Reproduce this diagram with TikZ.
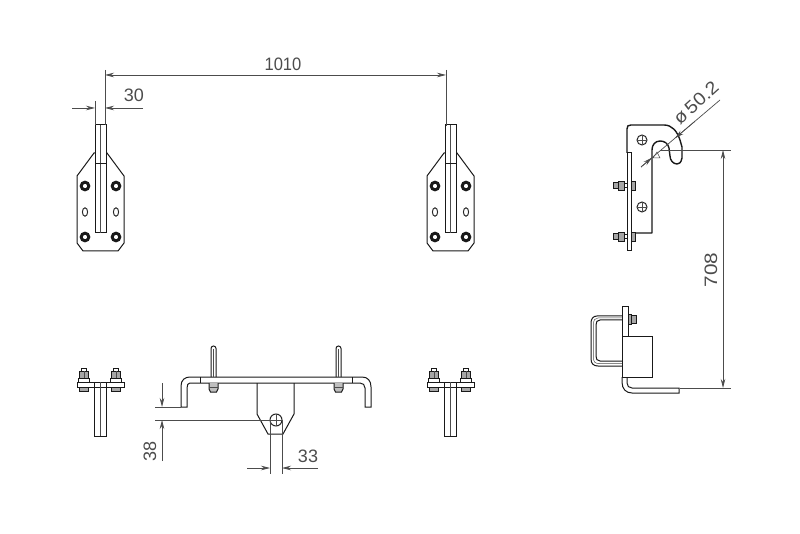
\documentclass[tikz,border=0pt]{standalone}
\usepackage{fontspec}
\setmainfont{Liberation Sans}
\usetikzlibrary{arrows.meta}
\newcommand{\crosshole}[3]{
  \draw[thick line] (#1,#2) circle (#3);
  \draw[thin line] (#1-#3,#2) -- (#1+#3,#2) (#1,#2-#3) -- (#1,#2+#3);
}
\newcommand{\boltdot}[2]{
  \draw[heavy line] (#1,#2) circle (3.8);
  \draw[thin line, draw=white] (#1-2,#2) -- (#1+2,#2) (#1,#2-2) -- (#1,#2+2);
}
\newcommand{\plateview}[1]{
  \begin{scope}[xshift=#1]
    \draw[part line] (94,153) -- (77,176) -- (77,243) -- (83,251) -- (118,251)
      -- (124,243) -- (124,176) -- (107,153) -- cycle;
    \draw[part line, fill=white] (95,125) rectangle (106,233);
    \draw[thin line] (100.5,125) -- (100.5,233);
    \draw[part line] (95,164) -- (106,164);
    \boltdot{85}{186}
    \boltdot{116}{186}
    \boltdot{85}{237}
    \boltdot{116}{237}
    \draw[thick line] (85,212) ellipse (2.6 and 4.2);
    \draw[thick line] (116,212) ellipse (2.6 and 4.2);
  \end{scope}
}
\newcommand{\nutstack}[1]{
  \draw[part line] (#1-2.5,368) rectangle (#1+2.5,372);
  \draw[part line, fill=black!35] (#1-4.5,371) rectangle (#1+4.5,378);
  \draw[part line] (#1-5.5,378) rectangle (#1+5.5,382);
  \draw[part line, fill=black!35] (#1-4.5,387) rectangle (#1+4.5,391);
  \draw[thin line] (#1,371) -- (#1,378);
}
\newcommand{\stripview}[1]{
  \begin{scope}[xshift=#1]
    \draw[part line] (77,382) rectangle (124,387);
    \draw[part line] (94,382) rectangle (106,436);
    \draw[thin line] (100,382) -- (100,436);
    \nutstack{84}
    \nutstack{116}
  \end{scope}
}
\newcommand{\sidebolt}[1]{
  \draw[part line, fill=black!35] (613,#1-3) rectangle (618,#1+3);
  \draw[part line, fill=black!35] (618,#1-4.5) rectangle (624,#1+4.5);
  \draw[part line] (624,#1-2) -- (627,#1-2) (624,#1+2) -- (627,#1+2);
  \draw[part line, fill=black!35] (631,#1-4.5) rectangle (635,#1+4.5);
}
\newcommand{\stud}[1]{
  \draw[part line] (#1-2.5,377) -- (#1-2.5,348.5) arc (180:360:2.5) -- (#1+2.5,377);
  \draw[thin line] (#1,349) -- (#1,377);
  \draw[part line, fill=black!25] (#1-4.5,383) -- (#1-4.5,389) -- (#1-3,392) -- (#1+3,392) -- (#1+4.5,389) -- (#1+4.5,383);
  \draw[thin line] (#1-4.5,387) -- (#1+4.5,387);
}
\tikzset{
  part line/.style  = {line width=1pt, draw=black!90},
  thick line/.style = {line width=1pt, draw=black!85},
  heavy line/.style = {line width=3pt, draw=black!90},
  thin line/.style  = {line width=0.5pt, draw=black!70},
  dim line/.style   = {line width=0.7pt, draw=black!70,
                       >={Stealth[length=9pt,width=4.5pt]}},
  dim text/.style   = {text=black!70, font=\fontsize{18}{18}\selectfont, inner sep=0pt}
}

\begin{document}
\begin{tikzpicture}[x=1pt,y=-1pt]
  \useasboundingbox (0,0) rectangle (800,534);

  % top views
  \plateview{0pt}
  \plateview{350pt}

  % end views
  \stripview{0pt}
  \stripview{350pt}

  % hook side view
  \draw[part line, line width=1.4pt, line join=round]
    (627,153) -- (627,129) .. controls (627,126) and (628,125) .. (631,125)
    -- (664,125) .. controls (672,125) and (677,131) .. (680,140)
    -- (682,147) -- (682,158) .. controls (681,163) and (679,164) .. (677,164)
    .. controls (673,164) and (670,160) .. (670,156)
    -- (669,148) .. controls (668,143) and (664,141) .. (660,141)
    .. controls (655,141) and (652,145) .. (652,150)
    -- (652,233) -- (631,233);
  \draw[part line, fill=white] (627,153) rectangle (631,251);
  \crosshole{642}{140}{5}
  \crosshole{642}{207}{5}
  \sidebolt{186}
  \sidebolt{237}

  % clamp side view
  \draw[part line] (622,307) rectangle (628,337);
  \draw[part line] (622,337) rectangle (652,377);
  \draw[part line] (622,377) -- (622,382) .. controls (622,389) and (626,393) .. (632,393)
    -- (679,393) -- (679,388) -- (632,388)
    .. controls (629,388) and (627,386) .. (627,383) -- (627,377);
  \draw[part line] (622,316) -- (597,316) .. controls (593,316) and (591,319) .. (591,323)
    -- (591,359) .. controls (591,364) and (594,366) .. (598,366) -- (622,366);
  \draw[part line] (622,320) -- (600,320) .. controls (597,320) and (596,322) .. (596,325)
    -- (596,356) .. controls (596,359) and (597,361) .. (600,361) -- (622,361);
  \draw[thin line] (622,318) -- (598,318) .. controls (595,318) and (593.5,320) .. (593.5,324)
    -- (593.5,358) .. controls (593.5,362) and (595,363.5) .. (599,363.5) -- (622,363.5);
  \draw[part line, fill=black!35] (628,315) rectangle (631,325);
  \draw[part line, fill=black!35] (631,316) rectangle (636,324);

  % rail front view
  \draw[part line] (181,407) -- (181,386) .. controls (181,380) and (185,377) .. (190,377)
    -- (362,377) .. controls (368,377) and (371,381) .. (371,387)
    -- (371,407) -- (365,407) -- (365,388) .. controls (365,385) and (363,383) .. (360,383)
    -- (190,383) .. controls (188,383) and (187,385) .. (187,388) -- (187,407) -- cycle;
  \draw[part line] (200,377) -- (200,383) (352,377) -- (352,383);
  \stud{213.5}
  \stud{338.5}
  \draw[part line] (257,383) -- (257,414) -- (268,434) -- (283,434) -- (294,414) -- (294,383);
  \crosshole{276}{420}{6}

  % dimensions
  \coordinate (widthL) at (105,75);
  \coordinate (widthR) at (446,75);
  \draw[dim line] (105,70) -- (105,125);
  \draw[dim line] (446,70) -- (446,126);
  \draw[dim line, <->] (widthL) -- (widthR);
  \node[dim text, xscale=0.92] (widthtext) at (283,64) {1010};

  \coordinate (stripA) at (72,108);
  \coordinate (stripB) at (143,108);
  \draw[dim line] (95,101) -- (95,125);
  \draw[dim line, ->] (stripA) -- (95,108);
  \draw[dim line, ->] (stripB) -- (105,108);
  \node[dim text] (striptext) at (134,95) {30};

  \coordinate (hookA) at (641,167);
  \coordinate (hookB) at (720,100);
  \draw[dim line] (hookA) -- (hookB);
  \draw[dim line, ->] (641,167) -- (652,157.7);
  \draw[dim line, ->] (695,121.2) -- (675,138.2);
  \draw[thin line] (657,152) -- (653,158) -- (660,158) -- cycle;
  \node[dim text, rotate=42, xscale=1.1] (hooktext) at (696,103) {ø\,50.2};

  \coordinate (heightT) at (723,150);
  \coordinate (heightB) at (723,388);
  \draw[dim line] (660,150) -- (731,150);
  \draw[dim line] (680,388) -- (731,388);
  \draw[dim line, <->] (heightT) -- (heightB);
  \node[dim text, rotate=90, xscale=1.15] (heighttext) at (711,270) {708};

  \coordinate (lugT) at (162,383);
  \coordinate (lugB) at (162,461);
  \draw[dim line] (155,407) -- (181,407);
  \draw[dim line] (155,420) -- (270,420);
  \draw[dim line, ->] (lugT) -- (162,407);
  \draw[dim line, ->] (lugB) -- (162,420);
  \node[dim text, rotate=90] (lugtext) at (150,451) {38};

  \coordinate (holeA) at (247,468);
  \coordinate (holeB) at (318,468);
  \draw[dim line] (270,420) -- (270,474);
  \draw[dim line] (282,420) -- (282,474);
  \draw[dim line, ->] (holeA) -- (270,468);
  \draw[dim line, ->] (holeB) -- (282,468);
  \node[dim text] (holetext) at (308,456) {33};
\end{tikzpicture}
\end{document}
